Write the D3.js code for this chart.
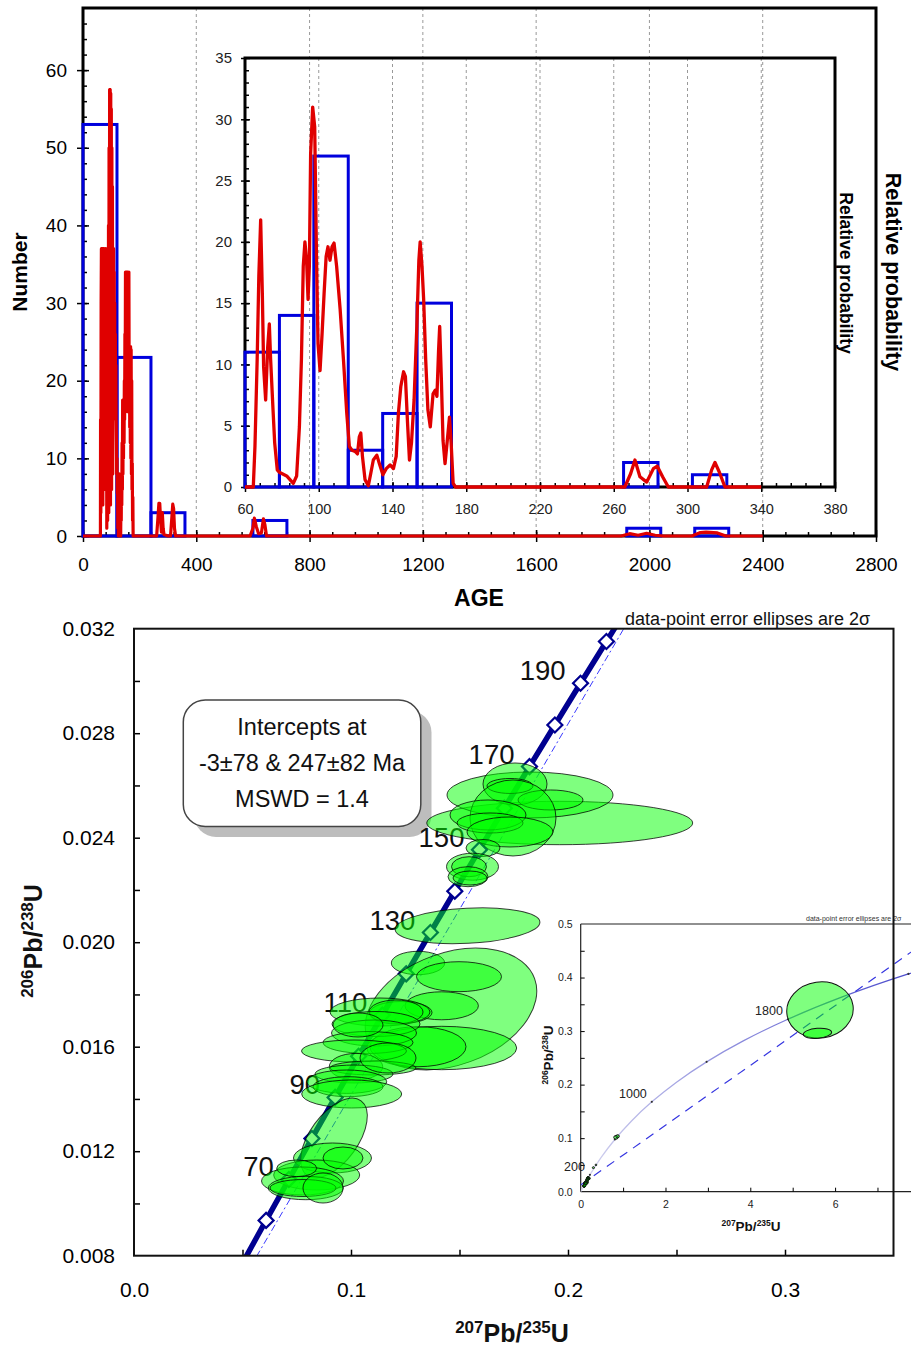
<!DOCTYPE html>
<html><head><meta charset="utf-8">
<script src="https://cdn.jsdelivr.net/npm/d3@7"></script>
<style>html,body{margin:0;padding:0;background:#fff}svg{display:block}</style>
</head><body>
<svg id="c" width="911" height="1352"></svg>
<script>
// ================= DATA =================
// --- Age histogram (main) ---
const histBins = [[0,120],[120,240],[240,360],[600,720],[1920,2040],[2160,2280]];
const histCounts = [53,23,3,2,1,1];
// --- Age histogram (inset, 60-380 Ma) ---
const insetBins = [[60,78.67],[78.67,97.33],[97.33,116],[116,134.67],[134.67,153.33],[153.33,172],[265.33,284],[302.67,321.33]];
const insetCounts = [11,14,27,3,6,15,2,1];
// --- Relative probability curve (main), in "Number" units ---
const mainDensity = [[0,0],[61.5,0],[62,15],[63,3],[64,30],[65,37],[66,5],[67,37],[68,15],[69,37],[70,4],[71,37],[72,12],[73,37],[74,6],[75,36],[76,10],[77,37],[78,14],[79,33],[80,37],[81.5,17.5],[83,35],[84,1],[85,18],[86,37],[87,2],[88,37],[89,5],[90,40],[91,3],[92,50],[93,8],[94,57.5],[95,10],[96,57.5],[97,4],[98,57],[99,9],[100,55],[101,6],[102,50],[103,12],[104,45],[105,8],[106,37],[107,15],[108,37],[109,20],[110,34],[111,17.5],[112,30],[113,17.5],[114,26],[115,17.5],[116,22],[117,15],[118,12],[119,8],[120,10],[121,5.5],[122,8],[123,1],[124,8],[125,0],[126,7],[127,1],[128,8],[129,0],[130,6],[131,1],[132,7],[133,0],[134,5],[135,2],[136,8],[137,4],[138,12],[139,6],[140,17.5],[141,8],[142,17.5],[143,10],[144,17.5],[145,12],[146,20],[147,15],[148,26],[149,20],[150,34],[151,22],[152,34],[153,20],[154,34],[155,18],[156,34],[157,16],[158,34],[159,20],[160,30],[161,18],[162,34],[163,20],[164,24.4],[165,14],[166,24.4],[167,12],[168,24.4],[169,10],[170,24],[171,8],[172,20],[173,6],[174,9.4],[175,2],[176,5],[177,0],[260,0],[264,2],[268,4.2],[271,4.2],[274,2],[277,0.5],[280,3],[283,1],[286,0.2],[300,0],[309,0],[313,2],[317,4.1],[320,3.5],[323,1],[327,0],[590,0],[600,1],[605,2.3],[612,1.2],[620,0.3],[630,0.4],[637,2.2],[642,1.5],[648,0],[1900,0],[1930,0.3],[1960,0.1],[1990,0.35],[2020,0.1],[2050,0],[2150,0],[2180,0.45],[2200,0.5],[2240,0.4],[2270,0],[2400,0]];
// --- Relative probability curve (inset) ---
const insetDensity = [[60,0],[64.5,0],[65.4,3.3],[66.6,10.4],[67.5,17.2],[68.5,21.8],[69.4,15.8],[70.1,9.8],[71.2,7.1],[72.3,11.4],[73.2,13.3],[73.9,10.4],[75.2,6.3],[76.1,3.6],[77.5,1.4],[78.6,1.2],[82.6,0.9],[86.2,0.3],[88,0.9],[89.5,4.9],[90.6,10.4],[91.6,18],[92.5,20],[93.4,18.5],[94.2,15.3],[94.9,18],[95.6,27.2],[96.7,31],[97.8,29.4],[98.8,18.5],[99.6,11.7],[100.7,9.5],[101.8,12.5],[102.9,15.8],[104,18.8],[105,19.6],[106.1,18.5],[107.2,19.6],[108.3,19.9],[109.7,18],[111.6,14.5],[113.4,10.4],[115.2,6],[116.6,3.3],[118,3],[119.7,2.9],[121,2.7],[122,4.1],[122.8,4.4],[123.7,2.5],[125.1,0.6],[126.9,0.1],[128.2,1.1],[129.6,2.2],[131.5,2.6],[132.9,1.9],[134.8,1],[136.6,1.5],[138.7,1.8],[140.5,1.5],[142,2.5],[143.2,6],[144.5,8.2],[146,9.4],[147,9],[148.1,5.4],[149.2,2.2],[150.3,3.6],[151.7,7.1],[153.2,13.1],[154.3,18.5],[155,20],[156,18],[156.9,15.3],[158,10.4],[159.2,6.3],[160.5,4.9],[162,7.6],[163.2,7.9],[164.1,7.4],[165,11.2],[165.6,13.1],[166.5,8.8],[167.4,3.8],[168.5,1.9],[169.6,3.6],[170.9,5.7],[171.8,3.6],[172.9,0.3],[174.2,0],[266,0],[269.2,1.1],[271.5,2.2],[274.2,0.84],[277.9,0.4],[281.5,1.5],[283.6,1.7],[286.5,0.84],[289.6,0],[310.4,0],[313.1,1.4],[314.9,2],[317.3,1.2],[320.3,0],[340,0]];
const mainXTicks = [0,400,800,1200,1600,2000,2400,2800];
const mainYTicks = [0,10,20,30,40,50,60];
const insetXTicks = [60,100,140,180,220,260,300,340,380];
const insetYTicks = [0,5,10,15,20,25,30,35];

// --- Concordia diagram ---
const concAges = [50,60,70,80,90,100,110,120,130,140,150,160,170,180,190,200,210];
const concX = [0.050475,0.060872,0.071371,0.081975,0.092683,0.103498,0.114419,0.125449,0.136588,0.147837,0.159197,0.170670,0.182256,0.193957,0.205774,0.217708,0.229759];
const concY = [0.0077864,0.0093509,0.0109179,0.0124873,0.0140592,0.0156334,0.0172102,0.0187893,0.0203710,0.0219550,0.0235416,0.0251306,0.0267220,0.0283160,0.0299124,0.0315113,0.0331126];
const concLabelAges = [70,90,110,130,150,170,190];
const discX = [-0.00295,0.27540];
const discY = [-0.000465,0.039059];
const concXTicks = [0,0.1,0.2,0.3];
const concYTicks = [0.008,0.012,0.016,0.020,0.024,0.028,0.032];
// ellipses: [207/235 centre, 206/238 centre, x semi-axis, y semi-axis, tilt deg]
const ellipses = [
[0.19618,0.024563,0.06129,0.000831,0],[0.18249,0.025635,0.03825,0.000880,0],[0.17558,0.026056,0.01475,0.000804,0],
[0.17327,0.025980,0.01060,0.000287,0],[0.19194,0.025444,0.01498,0.000383,0],[0.17465,0.024755,0.01982,0.001455,0],
[0.16313,0.024870,0.01751,0.000574,0],[0.16406,0.024563,0.01521,0.000383,0],[0.17327,0.024219,0.01982,0.000574,0],
[0.16083,0.023606,0.00783,0.000325,0],[0.15599,0.022890,0.01198,0.000517,0],[0.15438,0.022890,0.00806,0.000383,0],
[0.15392,0.022507,0.00922,0.000383,0],[0.15484,0.022457,0.00783,0.000268,0],
[0.15369,0.020628,0.03341,0.000670,-3],[0.13088,0.019204,0.01230,0.000448,0],[0.14608,0.017443,0.04101,0.002144,-20],
[0.14977,0.018680,0.01959,0.000574,0],[0.14180,0.017566,0.01691,0.000536,0],[0.14180,0.015950,0.03456,0.000831,0],
[0.13088,0.016000,0.02212,0.000766,0],[0.12304,0.017309,0.01429,0.000421,0],[0.11336,0.017328,0.02304,0.000536,0],
[0.12074,0.017328,0.01244,0.000459,0],[0.11152,0.016869,0.02028,0.000478,0],[0.11060,0.016524,0.01959,0.000498,0],
[0.10783,0.016161,0.02074,0.000421,0],[0.10138,0.015836,0.02419,0.000421,0],[0.10323,0.016831,0.01152,0.000459,0],
[0.10230,0.015234,0.01230,0.000509,0],[0.11014,0.015185,0.01982,0.000268,0],[0.10138,0.014955,0.01797,0.000344,0],
[0.09802,0.014660,0.01843,0.000448,0],[0.09862,0.014469,0.01613,0.000383,0],[0.10032,0.014190,0.02304,0.000536,0],
[0.11705,0.015567,0.01290,0.000574,0],[0.09217,0.012505,0.02120,0.000919,-54],[0.09147,0.011740,0.01797,0.000574,0],
[0.08419,0.011089,0.01982,0.000574,0],[0.07765,0.010859,0.01889,0.000536,0],[0.07917,0.010591,0.01728,0.000448,0],
[0.07788,0.010591,0.01521,0.000325,0],[0.08710,0.010591,0.00922,0.000574,0],[0.07498,0.011345,0.00922,0.000318,0],
[0.09631,0.011740,0.00922,0.000421,0]];
const interceptLines = ["Intercepts at","-3\u00B178 & 247\u00B182 Ma","MSWD = 1.4"];
const ellipseNote = "data-point error ellipses are 2\u03C3";

// --- Inset concordia (full range) ---
const insetConcAges = [0,200,400,600,800,1000,1200,1400,1600,1800,2000,2200,2400];
const insetConcX = [0,0.21771,0.48281,0.80563,1.19873,1.67741,2.26030,2.97009,3.83441,4.88690,6.16853,7.72916,9.62957];
const insetConcY = [0,0.031511,0.064016,0.097544,0.132134,0.167806,0.204598,0.242555,0.281707,0.322093,0.363752,0.406724,0.451047];
const insetMarkAges = [200,600,1000,1400,1800,2200];
const insetLabelAges = [200,1000,1800];
const insetDiscX = [0,9];
const insetDiscY = [0.0125,0.515];
const insetEllipses = [[5.644,0.3394,0.786,0.0523,-8],[5.585,0.2959,0.335,0.0093,-5],[0.83,0.1015,0.05,0.0035,0],[0.87,0.1035,0.04,0.003,0],[0.30,0.0449,0.025,0.0018,0],[0.36,0.0500,0.02,0.0015,0]];
const insetXTicks2 = [0,2,4,6];
const insetYTicks2 = [0,0.1,0.2,0.3,0.4,0.5];

// ================= DRAW =================
const FONT = "'Liberation Sans', Arial, Helvetica, sans-serif";
const svg = d3.select("#c").attr("font-family", FONT);
const RED = "#e00000", BLUE = "#0000dd", NAVY = "#000090";

function cleanAxis(g, fs, color) {
  g.attr("font-family", FONT).attr("font-size", fs);
  g.select(".domain").remove();
  g.selectAll(".tick line").attr("stroke", "#000").attr("stroke-width", 1.5);
  g.selectAll(".tick text").attr("fill", color || "#000");
}

// ---------- Top: histogram ----------
const hx = d3.scaleLinear().domain([0,2800]).range([83,876]);
const hy = d3.scaleLinear().domain([0,68]).range([536,8]);
const ix = d3.scaleLinear().domain([60,380]).range([245,835]);
const iy = d3.scaleLinear().domain([0,35]).range([487,58]);

svg.append("g").selectAll("line").data(mainXTicks.slice(1,-1)).join("line")
  .attr("x1", d=>hx(d)).attr("x2", d=>hx(d)).attr("y1", hy(68)).attr("y2", hy(0))
  .attr("stroke", "#999").attr("stroke-width", 1).attr("stroke-dasharray", "3,3");
svg.append("g").selectAll("line").data(insetXTicks.slice(1,-1)).join("line")
  .attr("x1", d=>ix(d)).attr("x2", d=>ix(d)).attr("y1", iy(35)).attr("y2", iy(0))
  .attr("stroke", "#999").attr("stroke-width", 1).attr("stroke-dasharray", "3,3");

svg.append("rect").attr("x", hx(0)).attr("y", hy(68)).attr("width", hx(2800)-hx(0)).attr("height", hy(0)-hy(68))
  .attr("fill", "none").attr("stroke", "#000").attr("stroke-width", 3);
let g = svg.append("g").attr("transform", `translate(${hx(0)},0)`)
  .call(d3.axisLeft(hy).tickValues(mainYTicks).tickSizeInner(6).tickSizeOuter(0).tickPadding(10).tickFormat(d3.format("d")));
cleanAxis(g, 19); g.selectAll(".tick line").attr("x1", 6);
g = svg.append("g").attr("transform", `translate(${hx(0)},0)`)
  .call(d3.axisLeft(hy).tickValues(d3.range(0,68,2)).tickSize(-4).tickFormat(""));
cleanAxis(g, 10);
g = svg.append("g").attr("transform", `translate(0,${hy(0)})`)
  .call(d3.axisBottom(hx).tickValues(mainXTicks).tickSizeInner(6).tickSizeOuter(0).tickPadding(16).tickFormat(d3.format("d")));
cleanAxis(g, 19); g.selectAll(".tick line").attr("y1", -6);
g = svg.append("g").attr("transform", `translate(0,${hy(0)})`)
  .call(d3.axisBottom(hx).tickValues(d3.range(0,2800,80)).tickSize(-4).tickFormat(""));
cleanAxis(g, 10);

svg.append("rect").attr("x", ix(60)).attr("y", iy(35)).attr("width", ix(380)-ix(60)).attr("height", iy(0)-iy(35))
  .attr("fill", "none").attr("stroke", "#000").attr("stroke-width", 3);
g = svg.append("g").attr("transform", `translate(${ix(60)},0)`)
  .call(d3.axisLeft(iy).tickValues(insetYTicks).tickSizeInner(4).tickSizeOuter(0).tickPadding(9));
cleanAxis(g, 15, "#222"); g.selectAll(".tick line").attr("x1", 5);
g = svg.append("g").attr("transform", `translate(${ix(60)},0)`)
  .call(d3.axisLeft(iy).tickValues(d3.range(0,35,1)).tickSize(-4).tickFormat(""));
cleanAxis(g, 10);
g = svg.append("g").attr("transform", `translate(0,${iy(0)})`)
  .call(d3.axisBottom(ix).tickValues(insetXTicks).tickSizeInner(5).tickSizeOuter(0).tickPadding(12));
cleanAxis(g, 14.5, "#222"); g.selectAll(".tick line").attr("y1", -5);
g = svg.append("g").attr("transform", `translate(0,${iy(0)})`)
  .call(d3.axisBottom(ix).tickValues(d3.range(60,380,8)).tickSize(-4).tickFormat(""));
cleanAxis(g, 10);

svg.append("g").selectAll("rect").data(histBins).join("rect")
  .attr("x", d=>hx(d[0])).attr("width", d=>hx(d[1])-hx(d[0]))
  .attr("y", (d,i)=>hy(histCounts[i])).attr("height", (d,i)=>hy(0)-hy(histCounts[i]))
  .attr("fill", "none").attr("stroke", BLUE).attr("stroke-width", 3);
svg.append("path").datum(mainDensity)
  .attr("d", d3.line().x(d=>hx(d[0])).y(d=>hy(d[1])))
  .attr("fill", "none").attr("stroke", RED).attr("stroke-width", 3.2).attr("stroke-linejoin", "round");
svg.append("g").selectAll("rect").data(insetBins).join("rect")
  .attr("x", d=>ix(d[0])).attr("width", d=>ix(d[1])-ix(d[0]))
  .attr("y", (d,i)=>iy(insetCounts[i])).attr("height", (d,i)=>iy(0)-iy(insetCounts[i]))
  .attr("fill", "none").attr("stroke", BLUE).attr("stroke-width", 3);
svg.append("path").datum(insetDensity)
  .attr("d", d3.line().x(d=>ix(d[0])).y(d=>iy(d[1])))
  .attr("fill", "none").attr("stroke", RED).attr("stroke-width", 3.3).attr("stroke-linejoin", "round");

svg.append("text").attr("transform", "translate(27,272) rotate(-90)").attr("text-anchor", "middle")
  .attr("font-weight", "bold").attr("font-size", 21).text("Number");
svg.append("text").attr("transform", "translate(886,272) rotate(90)").attr("text-anchor", "middle")
  .attr("font-weight", "bold").attr("font-size", 21.5).text("Relative probability");
svg.append("text").attr("transform", "translate(840,273) rotate(90)").attr("text-anchor", "middle")
  .attr("font-weight", "bold").attr("font-size", 17.5).text("Relative probability");
svg.append("text").attr("x", 479).attr("y", 606).attr("text-anchor", "middle")
  .attr("font-weight", "bold").attr("font-size", 23).text("AGE");

// ---------- Bottom: concordia ----------
const cx = d3.scaleLinear().domain([0,0.35]).range([134,893.5]);
const cy = d3.scaleLinear().domain([0.008,0.032]).range([1255.7,628.7]);
const qx = d3.scaleLinear().domain([0,7.8]).range([580.7,911.4]);
const qy = d3.scaleLinear().domain([0,0.5]).range([1191.7,924]);

const defs = svg.append("defs");
defs.append("clipPath").attr("id", "clipQ").append("rect")
  .attr("x", qx(0)).attr("y", qy(0.5)).attr("width", 911-qx(0)).attr("height", qy(0)-qy(0.5));
defs.append("clipPath").attr("id", "clipC").append("rect")
  .attr("x", cx(0)).attr("y", cy(0.032)).attr("width", cx(0.35)-cx(0)).attr("height", cy(0.008)-cy(0.032));
const grad = defs.append("linearGradient").attr("id", "concGrad").attr("gradientUnits", "userSpaceOnUse")
  .attr("x1", qx(0)).attr("y1", qy(0)).attr("x2", qx(7.8)).attr("y2", qy(0.4));
grad.append("stop").attr("offset", "0").attr("stop-color", "#d8d8f0");
grad.append("stop").attr("offset", "1").attr("stop-color", "#4c4ccc");

const qg = svg.append("g");
qg.append("line").attr("x1", qx(0)).attr("x2", 911).attr("y1", qy(0.5)).attr("y2", qy(0.5)).attr("stroke", "#222").attr("stroke-width", 1.2);
qg.append("line").attr("x1", qx(0)).attr("x2", 911).attr("y1", qy(0)).attr("y2", qy(0)).attr("stroke", "#222").attr("stroke-width", 1.2);
qg.append("line").attr("x1", qx(0)).attr("x2", qx(0)).attr("y1", qy(0.5)).attr("y2", qy(0)).attr("stroke", "#222").attr("stroke-width", 1.2);
g = qg.append("g").attr("transform", `translate(${qx(0)},0)`)
  .call(d3.axisLeft(qy).tickValues(insetYTicks2).tickSize(0).tickPadding(8).tickFormat(d3.format(".1f")));
cleanAxis(g, 10.5, "#222");
g = qg.append("g").attr("transform", `translate(${qx(0)},0)`)
  .call(d3.axisLeft(qy).tickValues(d3.range(0.05,0.5,0.05)).tickSize(-4).tickFormat(""));
cleanAxis(g, 10); g.selectAll(".tick line").attr("stroke-width", 1);
g = qg.append("g").attr("transform", `translate(0,${qy(0)})`)
  .call(d3.axisBottom(qx).tickValues(insetXTicks2).tickSize(0).tickPadding(9).tickFormat(d3.format("d")));
cleanAxis(g, 10.5, "#222");
g = qg.append("g").attr("transform", `translate(0,${qy(0)})`)
  .call(d3.axisBottom(qx).tickValues(d3.range(1,8,1)).tickSize(-4).tickFormat(""));
cleanAxis(g, 10); g.selectAll(".tick line").attr("stroke-width", 1);

const qc = qg.append("g").attr("clip-path", "url(#clipQ)");
qc.append("path").datum(insetConcAges.map((a,i)=>[insetConcX[i], insetConcY[i]]))
  .attr("d", d3.line().x(d=>qx(d[0])).y(d=>qy(d[1])).curve(d3.curveCatmullRom))
  .attr("fill", "none").attr("stroke", "url(#concGrad)").attr("stroke-width", 1.3);
qc.append("line").attr("x1", qx(insetDiscX[0])).attr("y1", qy(insetDiscY[0])).attr("x2", qx(insetDiscX[1])).attr("y2", qy(insetDiscY[1]))
  .attr("stroke", "#3535e0").attr("stroke-width", 1.2).attr("stroke-dasharray", "9,7");
qc.selectAll("circle.m").data(insetMarkAges).join("circle").attr("class", "m")
  .attr("cx", a=>qx(insetConcX[insetConcAges.indexOf(a)])).attr("cy", a=>qy(insetConcY[insetConcAges.indexOf(a)]))
  .attr("r", 1.1).attr("fill", "#333");
qc.selectAll("ellipse.q").data(insetEllipses).join("ellipse").attr("class", "q")
  .attr("transform", d=>`translate(${qx(d[0])},${qy(d[1])}) rotate(${d[4]})`)
  .attr("rx", d=>qx(d[2])-qx(0)).attr("ry", d=>qy(0)-qy(d[3]))
  .attr("fill", "#00ff00").attr("fill-opacity", 0.5).attr("stroke", "#111").attr("stroke-width", 1);
qc.selectAll("ellipse.y").data(ellipses).join("ellipse").attr("class", "y")
  .attr("transform", d=>`translate(${qx(d[0])},${qy(d[1])})`)
  .attr("rx", 1.2).attr("ry", 1.2).attr("fill", "#00aa00").attr("stroke", "#111").attr("stroke-width", 0.8);
qg.selectAll("text.lab").data(insetLabelAges).join("text").attr("class", "lab")
  .attr("x", a=>qx(insetConcX[insetConcAges.indexOf(a)])-5).attr("y", a=>qy(insetConcY[insetConcAges.indexOf(a)])-4)
  .attr("text-anchor", "end").attr("font-size", 12.5).attr("fill", "#222").text(a=>a);
qg.append("text").attr("x", 806).attr("y", 921).attr("font-size", 7).attr("fill", "#333").text(ellipseNote);
let tt = qg.append("text").attr("x", 751).attr("y", 1231).attr("text-anchor", "middle").attr("font-weight", "bold").attr("fill", "#111");
tt.append("tspan").attr("font-size", 8.5).attr("dy", -5).text("207");
tt.append("tspan").attr("font-size", 13.5).attr("dy", 5).text("Pb/");
tt.append("tspan").attr("font-size", 8.5).attr("dy", -5).text("235");
tt.append("tspan").attr("font-size", 13.5).attr("dy", 5).text("U");
tt = qg.append("text").attr("transform", "translate(553,1055) rotate(-90)").attr("text-anchor", "middle").attr("font-weight", "bold").attr("fill", "#111");
tt.append("tspan").attr("font-size", 8.5).attr("dy", -5).text("206");
tt.append("tspan").attr("font-size", 13.5).attr("dy", 5).text("Pb/");
tt.append("tspan").attr("font-size", 8.5).attr("dy", -5).text("238");
tt.append("tspan").attr("font-size", 13.5).attr("dy", 5).text("U");

// ---- main concordia ----
g = svg.append("g").attr("transform", `translate(${cx(0)},0)`)
  .call(d3.axisLeft(cy).tickValues(concYTicks).tickSize(0).tickPadding(19).tickFormat(d3.format(".3f")));
cleanAxis(g, 21);
g = svg.append("g").attr("transform", `translate(${cx(0)},0)`)
  .call(d3.axisLeft(cy).tickValues(d3.range(0.010,0.031,0.002)).tickSize(-6).tickFormat(""));
cleanAxis(g, 10);
g = svg.append("g").attr("transform", `translate(0,${cy(0.008)})`)
  .call(d3.axisBottom(cx).tickValues(concXTicks).tickSize(0).tickPadding(26).tickFormat(d3.format(".1f")));
cleanAxis(g, 21);
g = svg.append("g").attr("transform", `translate(0,${cy(0.008)})`)
  .call(d3.axisBottom(cx).tickValues(d3.range(0.05,0.35,0.05)).tickSize(-6).tickFormat(""));
cleanAxis(g, 10);

svg.append("rect").attr("x", 194).attr("y", 710.5).attr("width", 237.5).attr("height", 126.5).attr("rx", 22).attr("fill", "#bdbdbd");
svg.append("rect").attr("x", 183.3).attr("y", 700).attr("width", 237.5).attr("height", 126.5).attr("rx", 22)
  .attr("fill", "#fff").attr("stroke", "#444").attr("stroke-width", 1.5);
svg.append("g").selectAll("text").data(interceptLines).join("text")
  .attr("x", 302).attr("y", (d,i)=>735 + i*36).attr("text-anchor", "middle").attr("font-size", 23.5).attr("fill", "#111").text(d=>d);

const cg = svg.append("g").attr("clip-path", "url(#clipC)");
const concPts = concAges.map((a,i)=>[concX[i], concY[i]]);
cg.append("path").datum(concPts)
  .attr("d", d3.line().x(d=>cx(d[0])).y(d=>cy(d[1])).curve(d3.curveCatmullRom))
  .attr("fill", "none").attr("stroke", NAVY).attr("stroke-width", 5.5);
cg.append("line").attr("x1", cx(discX[0])).attr("y1", cy(discY[0])).attr("x2", cx(discX[1])).attr("y2", cy(discY[1]))
  .attr("stroke", "#3a3aff").attr("stroke-width", 1).attr("stroke-dasharray", "7,3,2,3");
cg.selectAll("rect.dia").data(concAges.filter(a=>a>=60 && a<=200)).join("rect").attr("class", "dia")
  .attr("transform", a=>{const i=concAges.indexOf(a);return `translate(${cx(concX[i])},${cy(concY[i])}) rotate(45)`;})
  .attr("x", -5.3).attr("y", -5.3).attr("width", 10.6).attr("height", 10.6)
  .attr("fill", "#fff").attr("stroke", NAVY).attr("stroke-width", 2.2);
svg.append("g").selectAll("text").data(concLabelAges).join("text")
  .attr("x", a=>{const i=concAges.indexOf(a);return cx(concX[i])-15;})
  .attr("y", a=>{const i=concAges.indexOf(a);return cy(concY[i])-3;})
  .attr("text-anchor", "end").attr("font-size", 27.5).attr("fill", "#111").text(a=>a);
svg.append("g").selectAll("ellipse").data(ellipses).join("ellipse")
  .attr("transform", d=>`translate(${cx(d[0])},${cy(d[1])}) rotate(${d[4]})`)
  .attr("rx", d=>cx(d[2])-cx(0)).attr("ry", d=>cy(0.008)-cy(0.008+d[3]))
  .attr("fill", "#00ff00").attr("fill-opacity", 0.5).attr("stroke", "#000").attr("stroke-opacity", 0.75).attr("stroke-width", 1);

svg.append("rect").attr("x", cx(0)).attr("y", cy(0.032)).attr("width", cx(0.35)-cx(0)).attr("height", cy(0.008)-cy(0.032))
  .attr("fill", "none").attr("stroke", "#111").attr("stroke-width", 2);
svg.append("text").attr("x", 625).attr("y", 625).attr("font-size", 18).attr("fill", "#111").text(ellipseNote);
tt = svg.append("text").attr("x", 512).attr("y", 1342).attr("text-anchor", "middle").attr("font-weight", "bold").attr("fill", "#111");
tt.append("tspan").attr("font-size", 17).attr("dy", -9).text("207");
tt.append("tspan").attr("font-size", 25).attr("dy", 9).text("Pb/");
tt.append("tspan").attr("font-size", 17).attr("dy", -9).text("235");
tt.append("tspan").attr("font-size", 25).attr("dy", 9).text("U");
tt = svg.append("text").attr("transform", "translate(42,941) rotate(-90)").attr("text-anchor", "middle").attr("font-weight", "bold").attr("fill", "#111");
tt.append("tspan").attr("font-size", 17).attr("dy", -9).text("206");
tt.append("tspan").attr("font-size", 25).attr("dy", 9).text("Pb/");
tt.append("tspan").attr("font-size", 17).attr("dy", -9).text("238");
tt.append("tspan").attr("font-size", 25).attr("dy", 9).text("U");
</script>
</body></html>
